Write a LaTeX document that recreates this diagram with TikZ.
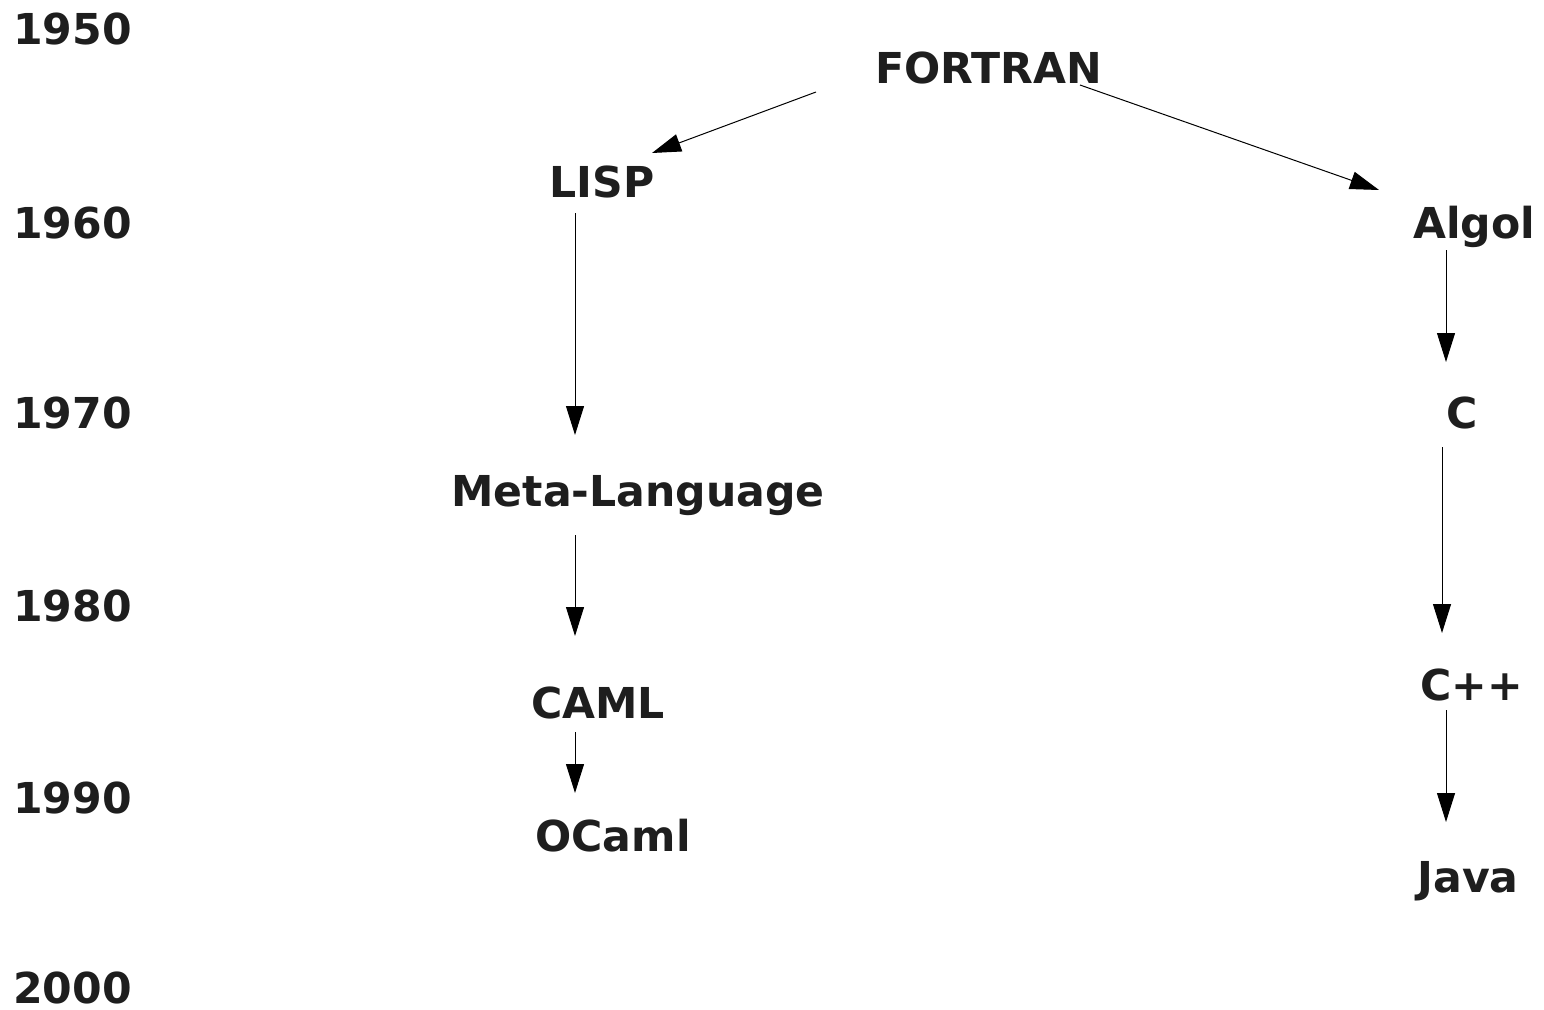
\documentclass[tikz,border=0pt]{standalone}
\usepackage{fontspec}
\setmainfont{DejaVu Sans}
\usetikzlibrary{arrows.meta,calc}
\definecolor{ink}{HTML}{1E1E1E}
\begin{document}
\begin{tikzpicture}[x=1pt,y=-1pt,
  lang/.style={anchor=base,inner sep=0pt,text=ink,font=\fontsize{42.6}{43}\selectfont\bfseries},
  year/.style={anchor=base west,inner sep=0pt,text=ink,font=\fontsize{42.6}{43}\selectfont\bfseries},
  arr/.style={draw=black,line width=1pt,-{Triangle[length=29pt,width=18pt]}}]
\useasboundingbox (0,0) rectangle (1544,1009);

% timeline years
\node[year] (y1950) at (13,44)  {1950};
\node[year] (y1960) at (13,238) {1960};
\node[year] (y1970) at (13,428) {1970};
\node[year] (y1980) at (13,621) {1980};
\node[year] (y1990) at (13,813) {1990};
\node[year] (y2000) at (13,1003) {2000};

% languages
\node[lang] (fortran) at (989,83)  {FORTRAN};
\node[lang] (lisp)    at (602,197) {LISP};
\node[lang] (algol)   at (1474,238) {Algol};
\node[lang] (c)       at (1462,428) {C};
\node[lang] (ml)      at (638,506) {Meta-Language};
\node[lang] (caml)    at (598,718) {CAML};
\node[lang] (ocaml)   at (613,851) {OCaml};
\node[lang] (cpp)     at (1472,700) {C++};
\node[lang] (java)    at (1468,892) {Java};

% lineage
\draw[arr] ($(fortran.base)+(-173,9)$) -- ($(lisp.base)+(50,-44)$);
\draw[arr] ($(fortran.base)+(91,2)$)   -- ($(algol.base)+(-95,-48)$);
\draw[arr] ($(lisp.base)+(-27,16)$)    -- ($(ml.base)+(-63,-71)$);
\draw[arr] ($(ml.base)+(-63,29)$)      -- ($(caml.base)+(-23,-82)$);
\draw[arr] ($(caml.base)+(-23,14)$)    -- ($(ocaml.base)+(-38,-58)$);
\draw[arr] ($(algol.base)+(-28,12)$)   -- ($(c.base)+(-16,-66)$);
\draw[arr] ($(c.base)+(-20,19)$)       -- ($(cpp.base)+(-30,-67)$);
\draw[arr] ($(cpp.base)+(-26,10)$)     -- ($(java.base)+(-22,-70)$);
\end{tikzpicture}
\end{document}
